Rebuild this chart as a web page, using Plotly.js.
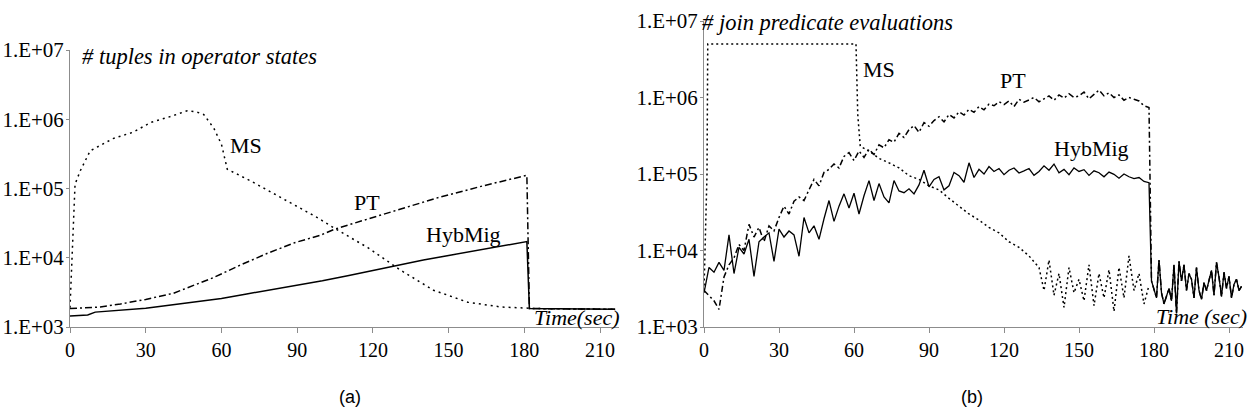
<!DOCTYPE html>
<html>
<head>
<meta charset="utf-8">
<script src="https://cdn.plot.ly/plotly-3.0.1.min.js"></script>
<style>
html,body{margin:0;padding:0;background:#fff;}
#chart{width:1260px;height:420px;}
</style>
</head>
<body>
<div id="chart"></div>
<script>
// ---------- Chart (a): # tuples in operator states ----------
var tA_hyb = [0, 7, 10, 20, 30, 40, 50, 60, 70, 80, 90, 100, 110, 120, 130, 140, 150, 160, 170, 181, 182, 200, 216];
var hybA   = [1440, 1490, 1640, 1750, 1870, 2080, 2300, 2580, 3000, 3450, 3950, 4650, 5500, 6600, 7900, 9300, 10800, 12500, 14500, 17100, 1850, 1800, 1800];

var tA_pt = [0, 12, 20, 30, 41, 47, 57, 67, 78, 89, 99, 105, 118, 131, 147, 164, 181, 182, 216];
var ptA   = [1850, 1940, 2150, 2500, 3070, 3740, 5200, 7700, 11500, 16500, 21000, 26000, 36000, 50000, 76000, 110000, 155000, 1850, 1800];

var tA_ms = [0, 0.8, 1.2, 2, 4, 8, 17, 25, 32, 40, 46.5, 50, 53, 57, 60, 62.3, 71.5, 84.7, 91, 98, 104.5, 118, 131, 144, 157.6, 171, 181.5, 182, 216];
var msA   = [1900, 8300, 24500, 115000, 178000, 350000, 525000, 650000, 900000, 1100000, 1330000, 1280000, 1170000, 740000, 435000, 190000, 129000, 71000, 52000, 38000, 27000, 14000, 6600, 3400, 2280, 1940, 1870, 1850, 1800];

// ---------- Chart (b): # join predicate evaluations ----------
var tB_main = [];
for (var i = 0; i <= 178; i += 2) tB_main.push(i);
var hybB = [2800, 6000, 5200, 7000, 5500, 16000, 5000, 11000, 9000, 14000,
            4600, 13000, 15000, 17000, 7200, 19000, 15000, 18000, 16000, 8400,
            27000, 17000, 21000, 14000, 26000, 45000, 24000, 38000, 55000, 36000,
            56000, 30000, 52000, 82000, 45000, 75000, 50000, 42000, 82000, 60000,
            57000, 64000, 55000, 72000, 112000, 68000, 85000, 92000, 62000, 70000,
            105000, 95000, 78000, 140000, 90000, 115000, 100000, 125000, 108000, 118000,
            98000, 112000, 120000, 103000, 110000, 118000, 96000, 108000, 128000, 112000,
            135000, 104000, 115000, 98000, 120000, 108000, 114000, 96000, 110000, 104000,
            92000, 106000, 99000, 88000, 100000, 92000, 87000, 90000, 80000, 77000];
var ptB  = [3000, 2600, 2200, 1700, 4500, 6500, 8000, 12000, 10000, 22000,
            15000, 20000, 13000, 21000, 18000, 27000, 38000, 30000, 44000, 50000,
            45000, 62000, 85000, 70000, 105000, 115000, 135000, 120000, 170000, 190000,
            150000, 200000, 165000, 210000, 180000, 240000, 220000, 280000, 260000, 340000,
            300000, 380000, 430000, 350000, 470000, 420000, 500000, 560000, 480000, 600000,
            540000, 650000, 590000, 700000, 640000, 760000, 690000, 820000, 780000, 880000,
            810000, 900000, 760000, 950000, 870000, 930000, 1000000, 880000, 960000, 1050000,
            920000, 1080000, 980000, 1120000, 1000000, 1050000, 1180000, 960000, 1100000, 1250000,
            1050000, 1150000, 1000000, 1080000, 920000, 1000000, 950000, 900000, 780000, 740000];

var tB_tail = [];
for (var j = 179; j <= 215; j++) tB_tail.push(j);
var tailB = [4000, 3000, 2400, 7500, 2800, 2000, 2600, 3200, 2200, 6500,
             1500, 7200, 4000, 6500, 3000, 5000, 4200, 2400, 6000, 3000,
             2300, 3800, 3000, 4000, 5500, 2600, 7000, 4500, 2500, 5200,
             3200, 4600, 2400, 3600, 4200, 3000, 3400];

var tB_ms = [0, 1.2, 1.5, 60.8, 61.5, 62.5, 66, 70, 74, 78, 82, 86, 90, 94, 98, 102, 106, 110, 114, 118, 122, 126, 130, 134];
var msB   = [3000, 100000, 5000000, 5000000, 600000, 230000, 200000, 160000, 140000, 120000, 95000, 85000, 70000, 62000, 48000, 38000, 30000, 25000, 20000, 17000, 13000, 11000, 8500, 6000];
var tB_msTail = [];
for (var k = 136; k <= 178; k += 2) tB_msTail.push(k);
var msBTail = [3000, 7500, 2600, 5000, 1800, 6000, 2800, 4200, 2200, 6500,
               1900, 5000, 2400, 5600, 1600, 6000, 2400, 8500, 3000, 5000,
               2000, 3500];

var yTickVals = [1e3, 1e4, 1e5, 1e6, 1e7];
var yTickText = ['1.E+03', '1.E+04', '1.E+05', '1.E+06', '1.E+07'];
var xTickVals = [0, 30, 60, 90, 120, 150, 180, 210];

// ---------- traces ----------
var lineW = 1.5;
var traces = [
  {x: tA_ms, y: msA, xaxis: 'x', yaxis: 'y', mode: 'lines', line: {color: '#000', width: 1.5, dash: '2px,4px'}},
  {x: tA_pt, y: ptA, xaxis: 'x', yaxis: 'y', mode: 'lines', line: {color: '#000', width: lineW, dash: '7px,3px,2px,3px'}},
  {x: tA_hyb, y: hybA, xaxis: 'x', yaxis: 'y', mode: 'lines', line: {color: '#000', width: lineW}},

  {x: tB_ms.concat(tB_msTail), y: msB.concat(msBTail), xaxis: 'x2', yaxis: 'y2', mode: 'lines', line: {color: '#000', width: 1.5, dash: '2px,3px'}},
  {x: tB_main.concat(tB_tail), y: ptB.concat(tailB), xaxis: 'x2', yaxis: 'y2', mode: 'lines', line: {color: '#000', width: lineW, dash: '6px,3px,2px,3px'}},
  {x: tB_main.concat(tB_tail), y: hybB.concat(tailB), xaxis: 'x2', yaxis: 'y2', mode: 'lines', line: {color: '#000', width: 1.3}}
];

var serif = '"Liberation Serif", "Times New Roman", Times, serif';
function xAxis(domain, range, anchor) {
  return {domain: domain, range: range, anchor: anchor, showgrid: false, zeroline: false,
    showline: true, linecolor: '#8c8c8c', linewidth: 1, ticks: 'outside', ticklen: 5, tickcolor: '#8c8c8c',
    tickvals: xTickVals, ticktext: xTickVals.map(String), tickfont: {family: serif, size: 20, color: '#000'}};
}
function yAxis(domain, anchor) {
  return {domain: domain, type: 'log', range: [3, 7], anchor: anchor, showgrid: false, zeroline: false,
    showline: true, linecolor: '#8c8c8c', linewidth: 1, ticks: 'outside', ticklen: 3, tickcolor: '#8c8c8c',
    ticklabelstandoff: -2,
    tickvals: yTickVals, ticktext: yTickText, tickfont: {family: serif, size: 21, color: '#000'}};
}

function ann(text, px, py, size, italic, fam) {
  return {text: italic ? '<i>' + text + '</i>' : text, xref: 'paper', yref: 'paper',
    x: px / 1260, y: 1 - py / 420, xanchor: 'center', yanchor: 'middle', showarrow: false,
    font: {family: fam || serif, size: size, color: '#000'}};
}

var layout = {
  width: 1260, height: 420,
  margin: {l: 0, r: 0, t: 0, b: 0},
  paper_bgcolor: '#fff', plot_bgcolor: 'rgba(0,0,0,0)',
  showlegend: false,
  xaxis: xAxis([70 / 1260, 619 / 1260], [0, 217.5], 'y'),
  yaxis: yAxis([1 - 327 / 420, 1 - 50 / 420], 'x'),
  xaxis2: xAxis([704 / 1260, 1243 / 1260], [0, 215.6], 'y2'),
  yaxis2: yAxis([1 - 327 / 420, 1 - 21 / 420], 'x2'),
  annotations: [
    ann('# tuples in operator states', 199, 57, 22.5, true),
    ann('MS', 246, 145, 22, false),
    ann('PT', 367, 202, 22, false),
    ann('HybMig', 463, 234, 22, false),
    ann('Time(sec)', 577, 317, 22, true),
    ann('# join predicate evaluations', 827, 22, 22.5, true),
    ann('MS', 879, 70, 22, false),
    ann('PT', 1013, 81, 22, false),
    ann('HybMig', 1091, 148, 22, false),
    ann('Time (sec)', 1201, 316, 22, true),
    ann('(a)', 350, 397, 18, false, '"Liberation Sans", Arial, sans-serif'),
    ann('(b)', 972, 397, 18, false, '"Liberation Sans", Arial, sans-serif')
  ]
};

Plotly.newPlot('chart', traces, layout, {displayModeBar: false, staticPlot: true});
</script>
</body>
</html>
